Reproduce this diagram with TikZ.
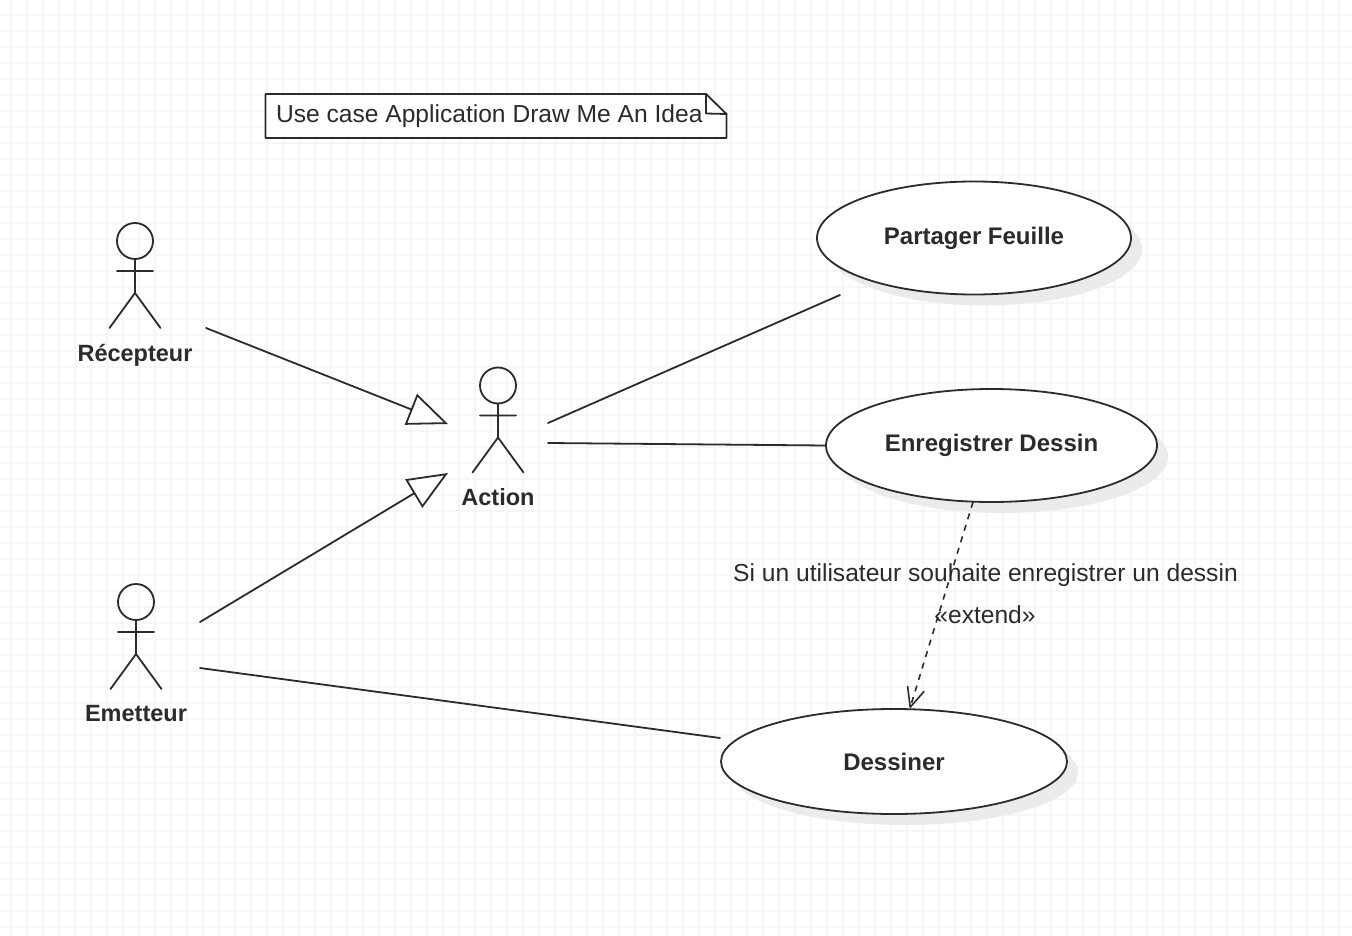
\documentclass[tikz,border=0pt]{standalone}
\usepackage{fontspec}
\setmainfont{Liberation Sans}
\usetikzlibrary{shapes.geometric,shadows,arrows.meta}
\definecolor{ink}{HTML}{2B2B2B}
\definecolor{gridc}{HTML}{F6F6F6}
\definecolor{shade}{HTML}{EBEBEB}
\tikzset{
  x=1pt,y=-1pt,
  every node/.style={inner sep=0pt,outer sep=0pt,text=ink},
  ln/.style={draw=ink,line width=1.8pt,line cap=round,line join=round},
  usecase/.style={ellipse,draw=ink,line width=1.8pt,fill=white,minimum width=#1,font=\fontsize{24}{28}\selectfont\bfseries,
     drop shadow={shadow xshift=11pt,shadow yshift=-11pt,fill=shade,opacity=1}},
  actorlabel/.style={font=\fontsize{23.5}{28}\selectfont\bfseries,text height=17pt,text depth=5pt},
  plain/.style={font=\fontsize{24.6}{28}\selectfont,text height=17pt,text depth=5pt},
  gen/.style={ln,-{Triangle[open,length=40pt,width=33pt,line width=1.8pt,fill=white]}},
  ext/.style={draw=ink,line width=1.6pt,dash pattern=on 6pt off 6pt,-{Straight Barb[length=19pt,width=17pt,line width=1.6pt,round,sep=0pt]}}
}
\newcommand{\umlactor}[5]{% name, x, y (head centre), label, label y
  \draw[ln] (#2,#3) circle[radius=18];
  \draw[ln] (#2,#3+18) -- (#2,#3+52) (#2-18,#3+30) -- (#2+18,#3+30)
            (#2-25.5,#3+87) -- (#2,#3+52) -- (#2+25.5,#3+87);
  \node[actorlabel] (#1) at (#2,#5) {#4};
}
\begin{document}
\begin{tikzpicture}
\useasboundingbox (0,0) rectangle (1352,936);
\fill[white] (0,0) rectangle (1352,936);
\begin{scope}[draw=gridc,line width=2pt]
\foreach \gx in {0,...,84} \draw (11+16*\gx,0) -- (11+16*\gx,936);
\foreach \gy in {0,...,57} \draw (0,15+16*\gy) -- (1352,15+16*\gy);
\end{scope}

% note
\draw[ln,fill=white] (265.5,94) -- (706,94) -- (726.5,114) -- (726.5,138) -- (265.5,138) -- cycle;
\draw[ln] (706,94) -- (706,113.5) -- (726.5,114);
\node[plain,anchor=west] (note) at (276,117) {Use case Application Draw Me An Idea};

% use cases
\node[usecase=314pt,minimum height=113pt] (partager) at (974,238) {Partager Feuille};
\node[usecase=331pt,minimum height=113pt] (enreg) at (991.5,445.5) {Enregistrer Dessin};
\node[usecase=346pt,minimum height=105pt] (dessiner) at (894,761.5) {Dessiner};

% actors
\umlactor{recepteur}{135}{241}{Récepteur}{355}
\umlactor{action}{498}{385.5}{Action}{499}
\umlactor{emetteur}{136}{602}{Emetteur}{715}

% free connector ends
\coordinate (recOut) at (206,328);
\coordinate (actIn1) at (448,424);
\coordinate (emOut1) at (200,622);
\coordinate (actIn2) at (448,473);
\coordinate (emOut2) at (200,668);
\coordinate (desIn) at (720,738);
\coordinate (actOut1) at (548,423);
\coordinate (parIn) at (840,295);
\coordinate (actOut2) at (548,443);
\coordinate (enrOut) at (973,502);
\coordinate (desTop) at (910,708);

\draw[gen] (recOut) -- (actIn1);
\draw[gen] (emOut1) -- (actIn2);
\draw[ln] (emOut2) -- (desIn);
\draw[ln] (actOut1) -- (parIn);
\draw[ln] (actOut2) -- (enreg.west);
\draw[ext] (enrOut) -- (desTop);

\node[plain] (cond) at (985.5,575) {Si un utilisateur souhaite enregistrer un dessin};
\node[plain] (stereo) at (985,617) {«extend»};
\end{tikzpicture}
\end{document}
